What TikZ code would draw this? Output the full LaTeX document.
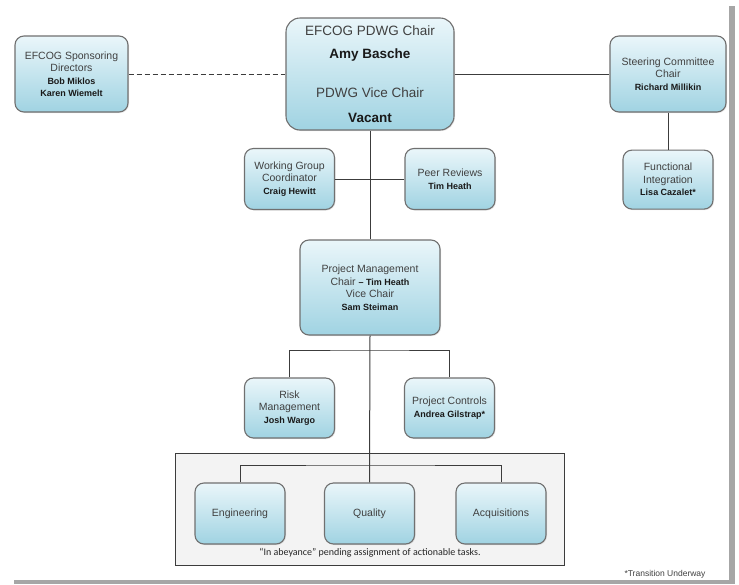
\documentclass[tikz,border=0pt]{standalone}
\usepackage{fontspec}
\setmainfont{Liberation Sans}
\newfontfamily\notefont{Carlito}
\usetikzlibrary{positioning,shadows}
\definecolor{boxtop}{RGB}{234,246,250}
\definecolor{boxbottom}{RGB}{160,211,226}
\definecolor{boxedge}{RGB}{112,112,112}
\definecolor{textgray}{RGB}{64,64,64}
\definecolor{linegray}{RGB}{60,60,60}
\definecolor{framefill}{RGB}{243,243,243}
\newcommand{\member}[1]{{\fontsize{9}{12.5}\selectfont\bfseries\color{black!90}#1}}
\tikzset{
    raw org box/.style={rectangle, rounded corners=9pt, draw=boxedge, line width=1.1pt, top color=boxtop, bottom color=boxbottom, text=textgray, align=center, inner sep=0pt, drop shadow={opacity=0.2, shadow xshift=1pt, shadow yshift=-1pt}},
    org box/.style={raw org box, font=\fontsize{10.5}{12.5}\selectfont},
    small box/.style={org box, minimum width=90pt, minimum height=61pt},
    chair box/.style={raw org box, rounded corners=14pt, font=\fontsize{13.5}{16}\selectfont, minimum width=168pt, minimum height=112pt},
    frame box/.style={rectangle, draw=linegray, line width=1pt, fill=framefill, minimum width=389pt, minimum height=112pt},
    connector/.style={draw=linegray, line width=1pt}
}
\begin{document}
\begin{tikzpicture}[x=1pt, y=-1pt]
    \useasboundingbox (0,0) rectangle (739,584);
    \fill[black!35] (14,6) rectangle (735,584);
    \fill[white] (10,2) rectangle (729,580);

    \node[frame box] (frame) at (369.5,509) {};

    \node[chair box] (chair) at (370,74) {EFCOG PDWG Chair\\[7pt]\textbf{\color{black!90}Amy Basche}\\[23pt]PDWG Vice Chair\\[9pt]\textbf{\color{black!90}Vacant}};
    \node[org box, minimum width=113pt, minimum height=76pt] (sponsor) at (71.5,74) {EFCOG Sponsoring\\Directors\\\member{Bob Miklos}\\\member{Karen Wiemelt}};
    \node[org box, minimum width=116pt, minimum height=76pt] (steering) at (668,74) {Steering Committee\\Chair\\\member{Richard Millikin}};
    \node[small box, minimum height=59pt, below=37pt of steering] (functional) {Functional\\Integration\\\member{Lisa Cazalet*}};

    \begin{scope}[every node/.style={small box}]
        \node (coordinator) at (289.5,179) {Working Group\\Coordinator\\\member{Craig Hewitt}};
        \node (peer) at (450,179) {Peer Reviews\\\member{Tim Heath}};
        \node[minimum width=140pt, minimum height=95pt] (pm) at (370,287.5) {Project Management\\Chair \member{– Tim Heath}\\Vice Chair\\\member{Sam Steiman}};
        \node[minimum height=60pt] (risk) at (289.5,408) {Risk\\Management\\\member{Josh Wargo}};
        \node[minimum height=60pt] (controls) at (449.5,408) {Project Controls\\\member{Andrea Gilstrap*}};
        \node (eng) at (240,513.5) {Engineering};
        \node (quality) at (369.5,513.5) {Quality};
        \node (acq) at (501,513.5) {Acquisitions};
    \end{scope}

    \node[font=\notefont\fontsize{10}{12}\selectfont, text=black!85] (abeyance) at (370,553) {“In abeyance” pending assignment of actionable tasks.};
    \node[font=\fontsize{8.5}{10}\selectfont, text=textgray] (transition) at (665,574) {*Transition Underway};

    \coordinate (pm split) at (370,350);
    \coordinate (dept split) at (370,465);

    \draw[connector, dashed, dash pattern=on 5pt off 3pt] (sponsor.east) -- (chair.west |- sponsor.east);
    \draw[connector] (chair.east |- steering.west) -- (steering.west);
    \draw[connector] (steering.south) -- (steering.south |- functional.north);
    \draw[connector] (chair.south) -- (pm.north);
    \draw[connector] (coordinator.east) -- (coordinator.east -| chair.south);
    \draw[connector] (peer.west) -- (peer.west -| chair.south);
    \draw[connector] (pm.south) -- (quality.north);
    \draw[connector] (risk.north) |- (pm split) -| (controls.north);
    \draw[connector] (eng.north) |- (dept split) -| (acq.north);
\end{tikzpicture}
\end{document}
